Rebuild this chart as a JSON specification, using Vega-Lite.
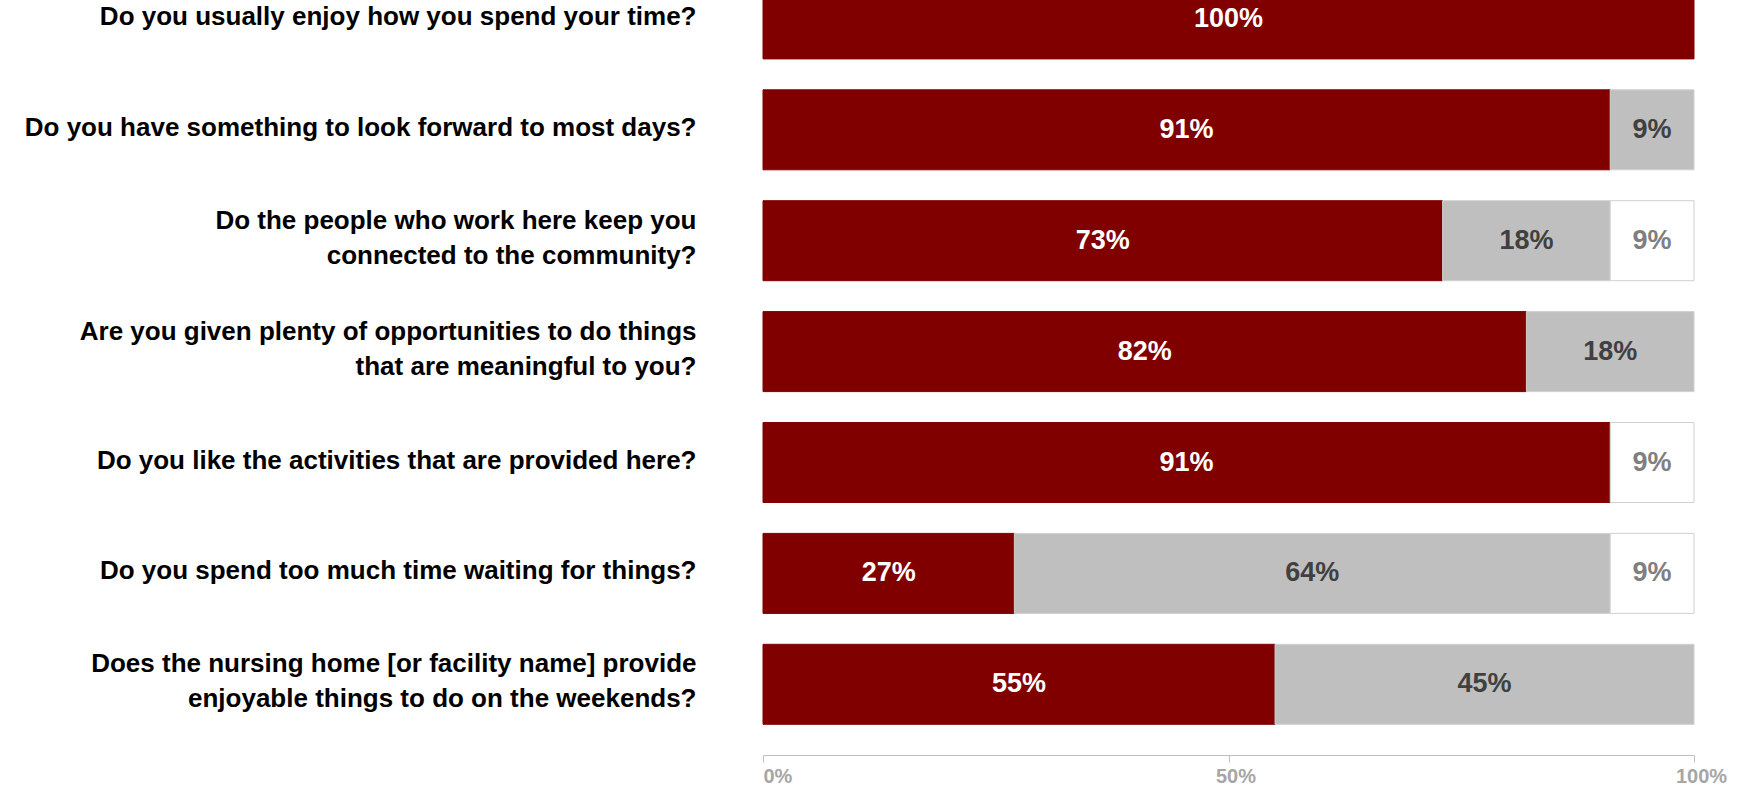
{
  "$schema": "https://vega.github.io/schema/vega-lite/v6.json",
  "width": 931,
  "height": 755,
  "autosize": {"type": "none"},
  "padding": {"left": 763, "top": 0, "right": 45, "bottom": 31},
  "background": "#ffffff",
  "config": {"view": {"stroke": null}},
  "data": {
    "values": [
      {"question": "Do you usually enjoy how you spend your time?", "response": "Yes", "pct": 100},
      {"question": "Do you have something to look forward to most days?", "response": "Yes", "pct": 91},
      {"question": "Do you have something to look forward to most days?", "response": "No", "pct": 9},
      {"question": "Do the people who work here keep you|connected to the community?", "response": "Yes", "pct": 73},
      {"question": "Do the people who work here keep you|connected to the community?", "response": "No", "pct": 18},
      {"question": "Do the people who work here keep you|connected to the community?", "response": "Other", "pct": 9},
      {"question": "Are you given plenty of opportunities to do things|that are meaningful to you?", "response": "Yes", "pct": 82},
      {"question": "Are you given plenty of opportunities to do things|that are meaningful to you?", "response": "No", "pct": 18},
      {"question": "Do you like the activities that are provided here?", "response": "Yes", "pct": 91},
      {"question": "Do you like the activities that are provided here?", "response": "Other", "pct": 9},
      {"question": "Do you spend too much time waiting for things?", "response": "Yes", "pct": 27},
      {"question": "Do you spend too much time waiting for things?", "response": "No", "pct": 64},
      {"question": "Do you spend too much time waiting for things?", "response": "Other", "pct": 9},
      {"question": "Does the nursing home [or facility name] provide|enjoyable things to do on the weekends?", "response": "Yes", "pct": 55},
      {"question": "Does the nursing home [or facility name] provide|enjoyable things to do on the weekends?", "response": "No", "pct": 45}
    ]
  },
  "transform": [
    {"calculate": "indexof(['Yes','No','Other'], datum.response)", "as": "rk"},
    {"stack": "pct", "groupby": ["question"], "sort": [{"field": "rk", "order": "ascending"}], "as": ["x0", "x1"]},
    {"calculate": "(datum.x0 + datum.x1) / 2", "as": "xm"},
    {"calculate": "datum.pct + '%'", "as": "lbl"}
  ],
  "encoding": {
    "y": {
      "field": "question",
      "type": "nominal",
      "sort": null,
      "scale": {"range": [-36.55, 739.75], "paddingInner": 0.2786, "paddingOuter": 0.1393},
      "axis": {
        "title": null,
        "domain": false,
        "ticks": false,
        "tickSize": 0,
        "labelPadding": 67,
        "labelFont": "Liberation Sans",
        "labelFontWeight": "bold",
        "labelFontSize": 26,
        "labelColor": "#000000",
        "labelLimit": 900,
        "labelLineHeight": 35,
        "labelBaseline": "middle",
        "labelOffset": {"condition": {"test": "indexof(datum.label, '|') >= 0", "value": -20}, "value": -2},
        "labelExpr": "split(datum.label, '|')"
      }
    }
  },
  "layer": [
    {
      "mark": {"type": "bar", "strokeWidth": 1},
      "encoding": {
        "x": {
          "field": "x0",
          "type": "quantitative",
          "scale": {"domain": [0, 100], "nice": false},
          "axis": {
            "title": null,
            "values": [0, 50, 100],
            "labelExpr": "datum.value + '%'",
            "grid": false,
            "domainColor": "#BFBFBF",
            "domainWidth": 1,
            "tickColor": "#BFBFBF",
            "tickSize": 7,
            "labelFont": "Liberation Sans",
            "labelFontWeight": "bold",
            "labelFontSize": 20,
            "labelColor": "#A6A6A6",
            "labelFlush": false,
            "labelAlign": {"condition": {"test": "datum.value == 0", "value": "left"}, "value": "center"},
            "labelOffset": {"condition": {"test": "datum.value == 0", "value": 0}, "value": 7},
            "labelPadding": 4
          }
        },
        "x2": {"field": "x1"},
        "color": {
          "field": "response",
          "type": "nominal",
          "scale": {"domain": ["Yes", "No", "Other"], "range": ["#800000", "#BFBFBF", "#FFFFFF"]},
          "legend": null
        },
        "stroke": {
          "field": "response",
          "type": "nominal",
          "scale": {"domain": ["Yes", "No", "Other"], "range": ["#800000", "#D0D0D0", "#D0D0D0"]},
          "legend": null
        }
      }
    },
    {
      "mark": {"type": "text", "font": "Liberation Sans", "fontWeight": "bold", "fontSize": 27, "baseline": "middle", "align": "center"},
      "encoding": {
        "x": {"field": "xm", "type": "quantitative"},
        "text": {"field": "lbl", "type": "nominal"},
        "color": {
          "condition": [
            {"test": "datum.response == 'Yes'", "value": "#FFFFFF"},
            {"test": "datum.response == 'No'", "value": "#404040"}
          ],
          "value": "#7F7F7F"
        }
      }
    }
  ]
}
